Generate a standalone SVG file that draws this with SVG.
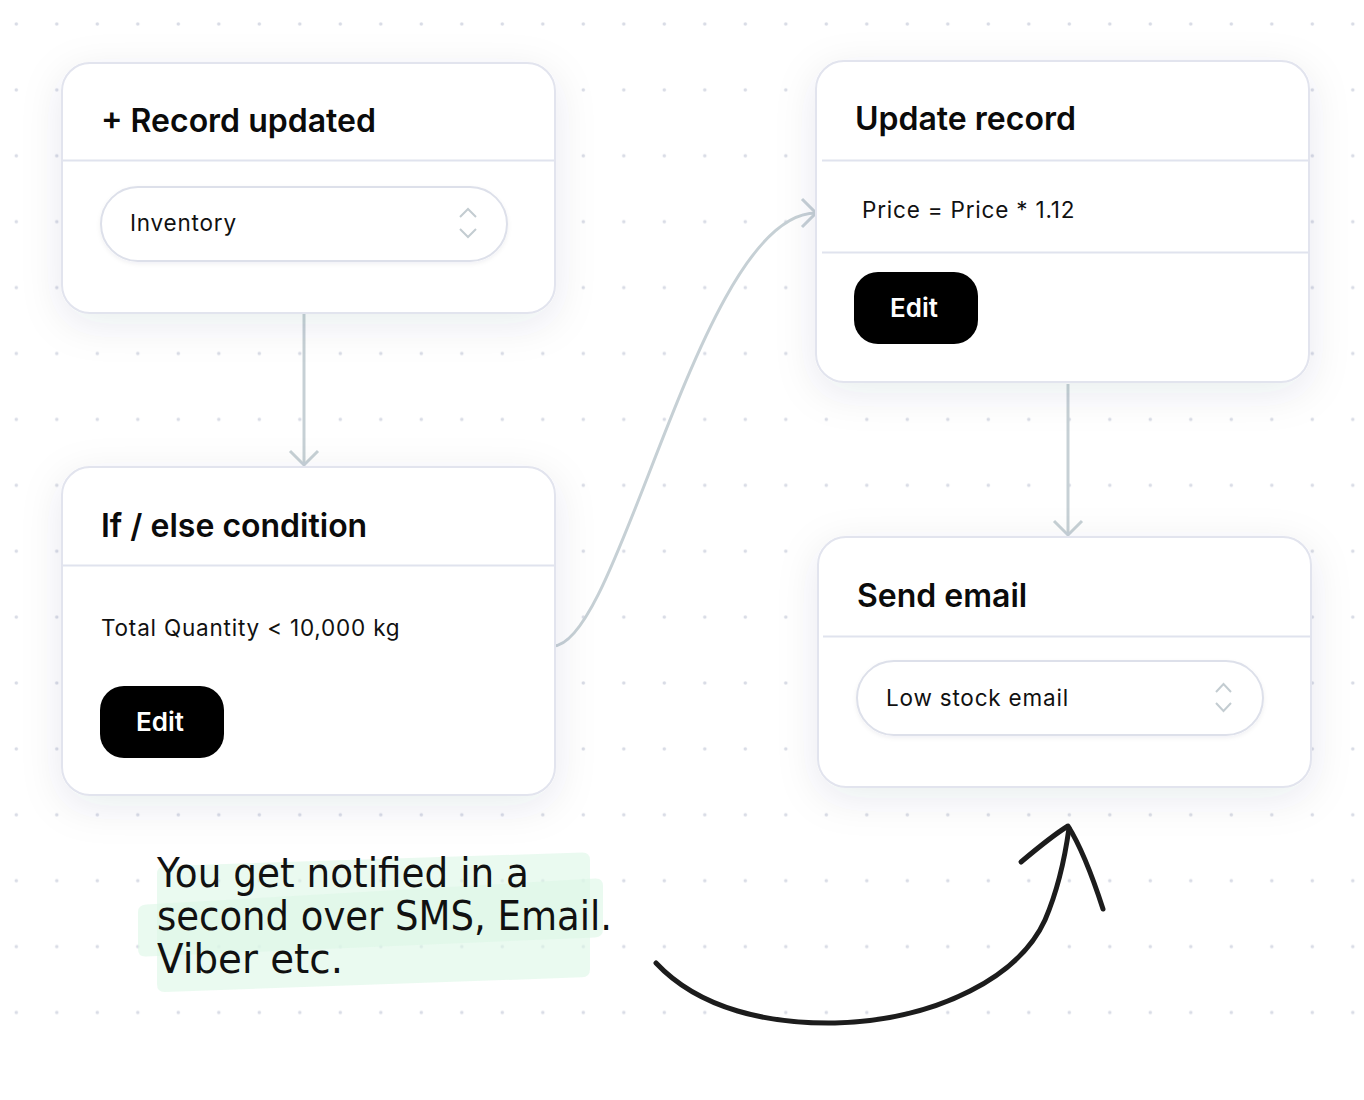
<svg xmlns="http://www.w3.org/2000/svg" width="1364" height="1100" viewBox="0 0 1364 1100">
  <defs>
    <pattern id="dots" x="-3.95" y="-8.95" width="40.5" height="65.9" patternUnits="userSpaceOnUse">
      <circle cx="20.25" cy="32.95" r="1.8" fill="#d9dce6"/>
    </pattern>
    <filter id="shadow" x="-20%" y="-30%" width="140%" height="160%">
      <feDropShadow dx="0" dy="10" stdDeviation="20" flood-color="#1e2a50" flood-opacity="0.09"/>
    </filter>
    <filter id="selshadow" x="-5%" y="-20%" width="110%" height="150%">
      <feDropShadow dx="0" dy="2" stdDeviation="2" flood-color="#1e2a50" flood-opacity="0.06"/>
    </filter>
    <marker id="chev" markerUnits="userSpaceOnUse" markerWidth="40" markerHeight="40" viewBox="-20 -20 40 40" refX="0" refY="0" orient="auto" overflow="visible">
      <path d="M-14,-14 L0,0 L-14,14" fill="none" stroke="#c6d0d5" stroke-width="3" stroke-linecap="butt" stroke-linejoin="miter"/>
    </marker>
  </defs>
  <style>
    .card { fill: #ffffff; stroke: #e2e4ee; stroke-width: 2; filter: url(#shadow); }
    .div { stroke: #e0e3ee; stroke-width: 2; }
    .title { font-family: Inter, "Noto Sans", sans-serif; font-weight: 600; font-size: 32px; fill: #0b0b0b; }
    .body { font-family: Inter, "Noto Sans", sans-serif; font-weight: 400; font-size: 22.5px; letter-spacing: 0.8px; fill: #111111; }
    .btn { fill: #000000; }
    .btntext { font-family: Inter, "Noto Sans", sans-serif; font-weight: 600; font-size: 26px; fill: #ffffff; }
    .sel { fill: #ffffff; stroke: #dde0ea; stroke-width: 2; filter: url(#selshadow); }
    .chev { fill: none; stroke: #c3ccd1; stroke-width: 2; }
    .conn { fill: none; stroke: #c6d0d5; stroke-width: 3; }
    .hand { font-family: "DejaVu Sans", "Noto Sans", sans-serif; font-size: 40px; fill: #111111; }
    .hl { fill: #dcf6e6; opacity: 0.6; }
  </style>

  <rect x="0" y="0" width="1364" height="1100" fill="#ffffff"/>
  <rect x="0" y="0" width="1364" height="1045" fill="url(#dots)"/>

  <g id="connectors">
    <path class="conn" d="M304,314 L304,465" marker-end="url(#chev)"/>
    <path class="conn" d="M553,646 C620,646 700,213 816,213" marker-end="url(#chev)"/>
    <path class="conn" d="M1068,384 L1068,535" marker-end="url(#chev)"/>
  </g>

  <g id="node-record-updated">
    <rect class="card" x="62" y="63" width="493" height="250" rx="28"/>
    <line class="div" x1="63" y1="160.5" x2="554" y2="160.5"/>
    <text class="title" x="101" y="132">+ Record updated</text>
    <rect class="sel" x="101" y="187" width="406" height="74" rx="37"/>
    <text class="body" x="130" y="231">Inventory</text>
    <path class="chev" d="M460,217 L468,209 L476,217 M460,229 L468,237 L476,229"/>
  </g>

  <g id="node-if-else">
    <rect class="card" x="62" y="467" width="493" height="328" rx="28"/>
    <line class="div" x1="63" y1="565.5" x2="554" y2="565.5"/>
    <text class="title" x="101" y="537">If / else condition</text>
    <text class="body" x="101" y="636">Total Quantity &lt; 10,000 kg</text>
    <rect class="btn" x="100" y="686" width="124" height="72" rx="24"/>
    <text class="btntext" x="160" y="731" text-anchor="middle">Edit</text>
  </g>

  <g id="node-update-record">
    <rect class="card" x="816" y="61" width="493" height="321" rx="28"/>
    <line class="div" x1="822" y1="160.5" x2="1308" y2="160.5"/>
    <text class="title" x="855" y="130">Update record</text>
    <text class="body" x="862" y="218">Price = Price * 1.12</text>
    <line class="div" x1="822" y1="252.5" x2="1308" y2="252.5"/>
    <rect class="btn" x="854" y="272" width="124" height="72" rx="24"/>
    <text class="btntext" x="914" y="317" text-anchor="middle">Edit</text>
  </g>

  <g id="node-send-email">
    <rect class="card" x="818" y="537" width="493" height="250" rx="28"/>
    <line class="div" x1="823" y1="636.5" x2="1310" y2="636.5"/>
    <text class="title" x="857" y="607">Send email</text>
    <rect class="sel" x="857" y="661" width="406" height="74" rx="37"/>
    <text class="body" x="886" y="706">Low stock email</text>
    <path class="chev" d="M1216,692 L1223.5,684 L1231,692 M1216,703 L1223.5,711 L1231,703"/>
  </g>

  <g id="annotation">
    <path class="hl" d="M165,866 L582,852.5 Q590,852.3 590,860 L590,969 Q590,977 582,977.3 L165,992 Q157,992.3 157,984 L157,874 Q157,866.3 165,866 Z"/>
    <path class="hl" d="M146,904.5 L595,878.5 Q603,878 603,886 L603,929 Q603,937 595,937.4 L146,956.5 Q138,957 138,949 L138,912 Q138,905 146,904.5 Z"/>
    <text class="hand" x="157" y="887" textLength="372" lengthAdjust="spacingAndGlyphs">You get notified in a</text>
    <text class="hand" x="157" y="930" textLength="455" lengthAdjust="spacingAndGlyphs">second over SMS, Email.</text>
    <text class="hand" x="157" y="973" textLength="186" lengthAdjust="spacingAndGlyphs">Viber etc.</text>
    <path d="M656,963 C700,1010 770,1024 835,1023 C940,1020 1020,975 1045,920 C1060,885 1066,850 1069,828" fill="none" stroke="#1c1c1c" stroke-width="5" stroke-linecap="round"/>
    <path d="M1021,862 C1040,846 1055,834 1068,826 C1080,845 1092,875 1103,909" fill="none" stroke="#1c1c1c" stroke-width="5" stroke-linecap="round" stroke-linejoin="round"/>
  </g>
</svg>
